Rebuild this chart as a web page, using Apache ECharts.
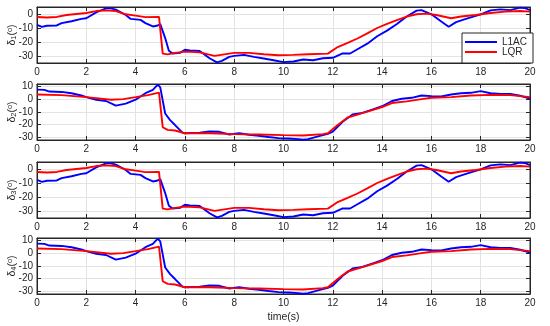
<!DOCTYPE html>
<html><head><meta charset="utf-8">
<script src="https://cdn.jsdelivr.net/npm/echarts@6/dist/echarts.min.js"></script>
<style>html,body{margin:0;padding:0;background:#fff}#c{width:550px;height:326px}</style>
</head><body><div id="c"></div>
<script>
// x ticks
const xTicks = [0,2,4,6,8,10,12,14,16,18,20];
const seriesNames = ['L1AC','LQR'];

// Panel 1 (delta_1)
const d1_L1AC_t = [0,0.2,0.4,0.8,1.0,1.4,1.8,2.0,2.4,2.8,3.0,3.2,3.6,3.8,4.2,4.4,4.7,4.9,5.0,5.2,5.35,5.5,5.8,6.0,6.2,6.6,7.0,7.3,7.5,7.8,8.0,8.4,8.8,9.2,9.6,10.0,10.4,10.8,11.2,11.6,12.0,12.4,12.7,13.0,13.4,13.8,14.2,14.6,15.0,15.4,15.6,16.0,16.4,16.7,17.0,17.4,17.8,18.0,18.4,18.8,19.2,19.6,19.8,20];
const d1_L1AC_v = [-7.5,-9,-8.2,-8,-6.3,-5,-3.3,-2.8,1.4,4.2,4.2,3.3,-0.5,-3.3,-4,-6.3,-8.7,-8,-7,-17,-26,-28,-27.6,-25.3,-25.8,-26.2,-31.4,-34.4,-33.3,-30.4,-29.7,-29,-30.4,-31.6,-32.8,-34.2,-33.7,-32.3,-32.8,-31.4,-31.1,-28,-28,-25,-21,-15.7,-11.7,-7,-1.6,2.6,3,0,-5.2,-8.9,-5.6,-3.3,-1.2,0,2.8,3.5,3,4.7,4.4,3];
const d1_LQR_t = [0,0.4,0.8,1.2,1.6,2.0,2.4,2.8,3.2,3.6,4.0,4.4,4.95,5.1,5.3,5.6,6.0,6.6,7.2,7.6,8.0,8.6,9.2,9.8,10.4,11.0,11.8,12.2,12.6,13.0,13.4,13.8,14.2,14.6,15.0,15.4,15.8,16.2,16.8,17.2,17.8,18.4,19.0,19.6,20];
const d1_LQR_v = [-1.9,-2.3,-1.9,-0.5,0.2,0.9,2.3,2.8,2.3,0,-1,-2,-1.9,-28.1,-28.6,-27.6,-26.7,-27.2,-29.7,-28.6,-27.6,-27.6,-28.6,-29.3,-29,-28.6,-28.1,-23.4,-20.4,-17.3,-13.6,-9.8,-6.8,-4.2,-1.6,0,0.5,-0.5,-2.8,-1.6,-0.5,0.9,1.9,2.3,1.9];

// Panel 2 (delta_2)
const d2_L1AC_t = [0,0.3,0.5,1.0,1.4,1.8,2.0,2.4,2.8,3.2,3.6,4.0,4.4,4.7,4.9,5.0,5.2,5.4,5.6,5.9,6.0,6.6,7.0,7.4,7.8,8.2,8.6,9.0,9.4,9.8,10.2,10.6,10.8,11.0,11.4,11.8,12.0,12.4,12.8,13.2,13.6,14.0,14.4,14.8,15.2,15.6,16.0,16.4,16.8,17.2,17.6,18.0,18.4,18.8,19.2,19.6,20];
const d2_L1AC_v = [7.4,7.2,5.9,5.6,4.6,2.8,1.5,-0.5,-1.5,-5.1,-3.6,-0.5,4.6,7.2,11.3,9.2,-11.3,-16.4,-20.3,-26.2,-26.7,-26.2,-25.4,-25.6,-27.7,-26.7,-27.9,-28.7,-29.7,-30.5,-30.8,-31.3,-31.8,-31.3,-29.2,-27.2,-25.4,-17.7,-12.1,-10.8,-8.2,-5.6,-1.5,0.3,1,2.8,2.3,2,3.6,4.6,4.9,6.2,4.6,4.1,4.1,2.6,0.3];
const d2_LQR_t = [0,1.0,2.0,3.0,3.5,4.0,4.5,4.95,5.1,5.3,5.6,6.0,7.0,8.0,9.0,10.0,10.8,11.6,11.8,12.2,12.6,13.0,13.6,14.0,14.4,15.0,15.6,16.0,16.8,17.6,18.4,19.2,20];
const d2_LQR_v = [3.6,3.1,1.5,-0.5,0,1.5,3.1,5.1,-22,-24.1,-24.6,-26.7,-26.7,-27.4,-27.7,-28.2,-28.5,-27.4,-26.7,-20.3,-14.4,-12.1,-8.7,-6.2,-3.1,-1.8,0,1,1.5,2.8,3.3,3.1,1.5];

// Panel 3 (delta_3) – same shape as panel 1 in the reference
const d3_L1AC_t = [0,0.2,0.4,0.8,1.0,1.4,1.8,2.0,2.4,2.8,3.0,3.2,3.6,3.8,4.2,4.4,4.7,4.9,5.0,5.2,5.35,5.5,5.8,6.0,6.2,6.6,7.0,7.3,7.5,7.8,8.0,8.4,8.8,9.2,9.6,10.0,10.4,10.8,11.2,11.6,12.0,12.4,12.7,13.0,13.4,13.8,14.2,14.6,15.0,15.4,15.6,16.0,16.4,16.7,17.0,17.4,17.8,18.0,18.4,18.8,19.2,19.6,19.8,20];
const d3_L1AC_v = [-7.5,-9,-8.2,-8,-6.3,-5,-3.3,-2.8,1.4,4.2,4.2,3.3,-0.5,-3.3,-4,-6.3,-8.7,-8,-7,-17,-26,-28,-27.6,-25.3,-25.8,-26.2,-31.4,-34.4,-33.3,-30.4,-29.7,-29,-30.4,-31.6,-32.8,-34.2,-33.7,-32.3,-32.8,-31.4,-31.1,-28,-28,-25,-21,-15.7,-11.7,-7,-1.6,2.6,3,0,-5.2,-8.9,-5.6,-3.3,-1.2,0,2.8,3.5,3,4.7,4.4,3];
const d3_LQR_t = [0,0.4,0.8,1.2,1.6,2.0,2.4,2.8,3.2,3.6,4.0,4.4,4.95,5.1,5.3,5.6,6.0,6.6,7.2,7.6,8.0,8.6,9.2,9.8,10.4,11.0,11.8,12.2,12.6,13.0,13.4,13.8,14.2,14.6,15.0,15.4,15.8,16.2,16.8,17.2,17.8,18.4,19.0,19.6,20];
const d3_LQR_v = [-1.9,-2.3,-1.9,-0.5,0.2,0.9,2.3,2.8,2.3,0,-1,-2,-1.9,-28.1,-28.6,-27.6,-26.7,-27.2,-29.7,-28.6,-27.6,-27.6,-28.6,-29.3,-29,-28.6,-28.1,-23.4,-20.4,-17.3,-13.6,-9.8,-6.8,-4.2,-1.6,0,0.5,-0.5,-2.8,-1.6,-0.5,0.9,1.9,2.3,1.9];

// Panel 4 (delta_4) – same shape as panel 2 in the reference
const d4_L1AC_t = [0,0.3,0.5,1.0,1.4,1.8,2.0,2.4,2.8,3.2,3.6,4.0,4.4,4.7,4.9,5.0,5.2,5.4,5.6,5.9,6.0,6.6,7.0,7.4,7.8,8.2,8.6,9.0,9.4,9.8,10.2,10.6,10.8,11.0,11.4,11.8,12.0,12.4,12.8,13.2,13.6,14.0,14.4,14.8,15.2,15.6,16.0,16.4,16.8,17.2,17.6,18.0,18.4,18.8,19.2,19.6,20];
const d4_L1AC_v = [7.4,7.2,5.9,5.6,4.6,2.8,1.5,-0.5,-1.5,-5.1,-3.6,-0.5,4.6,7.2,11.3,9.2,-11.3,-16.4,-20.3,-26.2,-26.7,-26.2,-25.4,-25.6,-27.7,-26.7,-27.9,-28.7,-29.7,-30.5,-30.8,-31.3,-31.8,-31.3,-29.2,-27.2,-25.4,-17.7,-12.1,-10.8,-8.2,-5.6,-1.5,0.3,1,2.8,2.3,2,3.6,4.6,4.9,6.2,4.6,4.1,4.1,2.6,0.3];
const d4_LQR_t = [0,1.0,2.0,3.0,3.5,4.0,4.5,4.95,5.1,5.3,5.6,6.0,7.0,8.0,9.0,10.0,10.8,11.6,11.8,12.2,12.6,13.0,13.6,14.0,14.4,15.0,15.6,16.0,16.8,17.6,18.4,19.2,20];
const d4_LQR_v = [3.6,3.1,1.5,-0.5,0,1.5,3.1,5.1,-22,-24.1,-24.6,-26.7,-26.7,-27.4,-27.7,-28.2,-28.5,-27.4,-26.7,-20.3,-14.4,-12.1,-8.7,-6.2,-3.1,-1.8,0,1,1.5,2.8,3.3,3.1,1.5];

const yRanges = [[-34.8, 5.2], [-32, 11.8], [-34.8, 5.2], [-32, 11.8]];
const yNames = ['1','2','3','4'];

const panels = [
  [[d1_L1AC_t,d1_L1AC_v],[d1_LQR_t,d1_LQR_v]],
  [[d2_L1AC_t,d2_L1AC_v],[d2_LQR_t,d2_LQR_v]],
  [[d3_L1AC_t,d3_L1AC_v],[d3_LQR_t,d3_LQR_v]],
  [[d4_L1AC_t,d4_L1AC_v],[d4_LQR_t,d4_LQR_v]]
];

const tops = [7, 84, 162, 238];
const heights = [56, 56, 56, 56];
const FONT = 'Liberation Sans, Arial, sans-serif';
const AX = '#262626';
const colors = ['#0000ff', '#ff0000'];

const pair = (t, v) => t.map((x, i) => [x, v[i]]);

const grid = [], xAxis = [], yAxis = [], series = [];
panels.forEach((p, k) => {
  grid.push({left: 37, right: 20, top: tops[k], height: heights[k], show: true, borderColor: AX, borderWidth: 1, backgroundColor: '#fff', containLabel: false, outerBoundsMode: 'none'});
  xAxis.push({
    type: 'value', gridIndex: k, min: 0, max: 20, interval: 2, position: 'bottom',
    axisLine: {show: true, onZero: false, lineStyle: {color: AX, width: 1}},
    axisTick: {show: true, inside: true, length: 4, lineStyle: {color: AX}},
    axisLabel: {color: AX, fontSize: 10, fontFamily: FONT, margin: 4, formatter: v => xTicks.includes(v) ? String(v) : ''},
    splitLine: {show: true, lineStyle: {color: '#e3e3e3', width: 1}},
    name: k === 3 ? 'time(s)' : '', nameLocation: 'middle', nameGap: 18, nameMoveOverlap: false,
    nameTextStyle: {color: AX, fontSize: 10.5, fontFamily: FONT}
  });
  xAxis.push({
    type: 'value', gridIndex: k, min: 0, max: 20, interval: 2, position: 'top',
    axisLine: {show: true, onZero: false, lineStyle: {color: AX, width: 1}},
    axisTick: {show: true, inside: true, length: 4, lineStyle: {color: AX}},
    axisLabel: {show: false}, splitLine: {show: false}
  });
  const fmt = v => (Math.abs(v % 10) < 1e-9 ? String(v) : '');
  yAxis.push({
    type: 'value', gridIndex: k, min: yRanges[k][0], max: yRanges[k][1], splitNumber: 4, position: 'left',
    axisLine: {show: true, onZero: false, lineStyle: {color: AX, width: 1}},
    axisTick: {show: true, inside: true, length: 4, lineStyle: {color: AX}},
    axisLabel: {color: AX, fontSize: 10, fontFamily: FONT, margin: 4, showMinLabel: false, showMaxLabel: false, formatter: fmt},
    splitLine: {show: true, lineStyle: {color: '#e3e3e3', width: 1}},
    name: '{d|δ}{sub|' + yNames[k] + '}{d|(}{sup|o}{d|)}',
    nameLocation: 'middle', nameRotate: 90, nameGap: 25, nameMoveOverlap: false,
    nameTextStyle: {
      color: AX, fontFamily: FONT, verticalAlign: 'middle', lineHeight: 12,
      rich: {
        d: {fontSize: 10.5, color: AX, fontFamily: FONT, lineHeight: 12, verticalAlign: 'middle'},
        sub: {fontSize: 7.5, color: AX, fontFamily: FONT, lineHeight: 12, verticalAlign: 'bottom'},
        sup: {fontSize: 7.5, color: AX, fontFamily: FONT, lineHeight: 12, verticalAlign: 'top'}
      }
    }
  });
  yAxis.push({
    type: 'value', gridIndex: k, min: yRanges[k][0], max: yRanges[k][1], splitNumber: 4, position: 'right',
    axisLine: {show: true, onZero: false, lineStyle: {color: AX, width: 1}},
    axisTick: {show: true, inside: true, length: 4, lineStyle: {color: AX}},
    axisLabel: {show: false}, splitLine: {show: false}
  });
  p.forEach((s, j) => {
    series.push({
      type: 'line', name: seriesNames[j], xAxisIndex: 2 * k, yAxisIndex: 2 * k,
      data: pair(s[0], s[1]), showSymbol: false, symbol: 'none', smooth: false,
      lineStyle: {color: colors[j], width: 1.9}, itemStyle: {color: colors[j]},
      z: 3 + j, animation: false, clip: true
    });
  });
});

const chart = echarts.init(document.getElementById('c'), null, {renderer: 'canvas'});
chart.setOption({
  animation: false,
  backgroundColor: '#fff',
  grid, xAxis, yAxis, series,
  legend: {
    data: seriesNames, orient: 'vertical', left: 462, top: 33,
    icon: 'rect', itemWidth: 32, itemHeight: 2, itemGap: 0, itemStyle: {borderWidth: 0},
    textStyle: {color: AX, fontSize: 10, fontFamily: FONT, lineHeight: 10, height: 10},
    padding: [4, 6, 6, 3], backgroundColor: '#fff', borderColor: AX, borderWidth: 1, borderRadius: 0,
    itemTextGap: 4, z: 10
  }
});
</script></body></html>
